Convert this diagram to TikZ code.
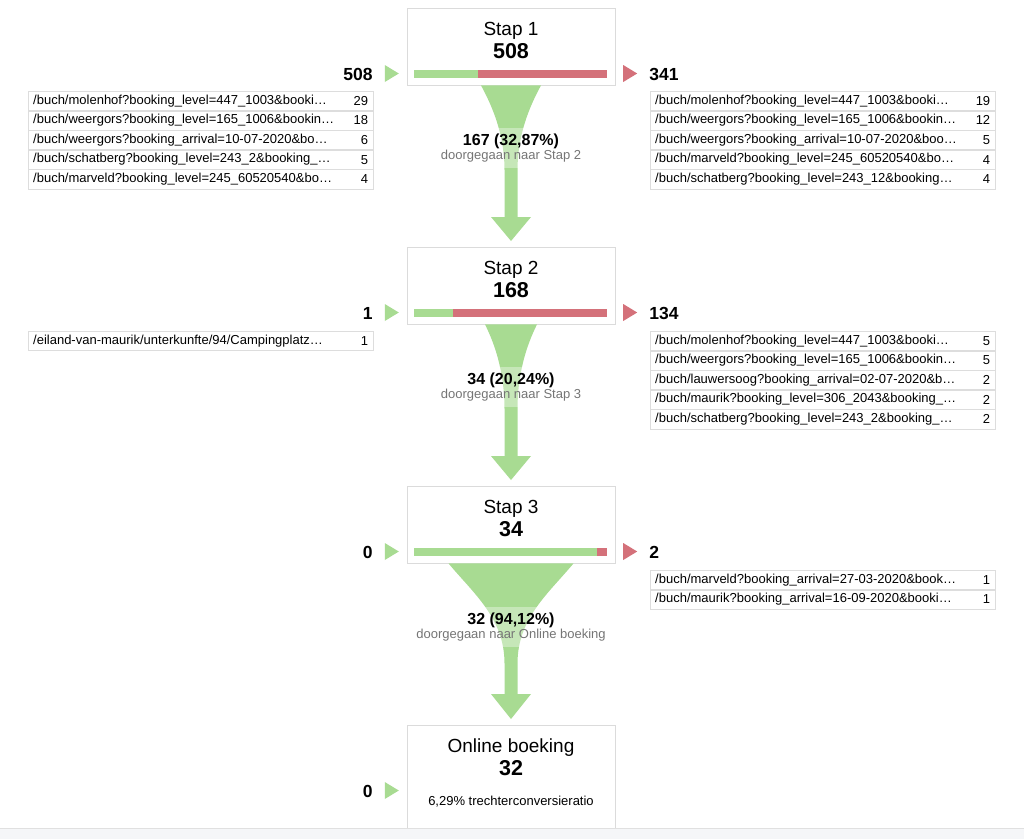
\documentclass[tikz,border=0pt]{standalone}
\usepackage{fontspec}
\setmainfont{Liberation Sans}
\usepackage{xcolor}
\usepackage{tikz}
\usetikzlibrary{positioning, calc, shadows}

\definecolor{passgreen}{RGB}{168,219,146}
\definecolor{dropred}{RGB}{212,113,122}
\definecolor{subgray}{RGB}{117,117,117}
\definecolor{cellline}{RGB}{221,221,221}
\definecolor{footgray}{RGB}{245,246,248}

\begin{document}
\begin{tikzpicture}[x=1pt, y=-1pt,
        stepbox/.style={rectangle, draw=black!14, fill=white, minimum width=208pt, minimum height=77pt, inner sep=0pt, anchor=north, drop shadow={opacity=0.07, shadow xshift=0pt, shadow yshift=-1.2pt}},
        steptitle/.style={anchor=base, inner sep=0pt, font=\fontsize{19}{22}\selectfont},
        stepcount/.style={anchor=base, inner sep=0pt, font=\fontsize{21.5}{24}\selectfont\bfseries},
        sidecount/.style={inner sep=0pt, font=\fontsize{17.5}{20}\selectfont\bfseries},
        pathrow/.style={rectangle, draw=cellline, fill=white, minimum width=345pt, minimum height=19.2pt, text width=335pt, inner xsep=5pt, inner ysep=0pt, text height=9pt, text depth=2.5pt, align=left, font=\fontsize{13}{15}\selectfont},
        rowcount/.style={anchor=east, inner sep=5pt, font=\fontsize{13}{15}\selectfont},
        passlabel/.style={fill=white, fill opacity=0.35, text opacity=1, align=center, minimum width=200pt, minimum height=40pt, inner sep=0pt, font=\fontsize{13}{14}\selectfont},
        flow/.style={fill=passgreen}
    ]
        \useasboundingbox (0,0) rectangle (1024,839);

        % Steps
        \node[stepbox] (s1) at (511,8) {};
        \node[stepbox] (s2) at (511,247) {};
        \node[stepbox] (s3) at (511,486) {};
        \node[stepbox, minimum height=110pt] (s4) at (511,725) {};

        \node[steptitle] (s1t) at ($(s1.north)+(0,27)$) {Stap 1};
        \node[stepcount] (s1n) at ($(s1.north)+(0,50)$) {508};
        \node[steptitle] (s2t) at ($(s2.north)+(0,27)$) {Stap 2};
        \node[stepcount] (s2n) at ($(s2.north)+(0,50)$) {168};
        \node[steptitle] (s3t) at ($(s3.north)+(0,27)$) {Stap 3};
        \node[stepcount] (s3n) at ($(s3.north)+(0,50)$) {34};
        \node[steptitle] (s4t) at ($(s4.north)+(0,27)$) {Online boeking};
        \node[stepcount] (s4n) at ($(s4.north)+(0,50)$) {32};
        \node[anchor=base, inner sep=0pt, font=\fontsize{13}{15}\selectfont] (s4r) at ($(s4.north)+(0,80)$) {6,29\% trechterconversieratio};

        % Continued / dropped bars
        \fill[passgreen] ($(s1.north west)+(7,62)$) rectangle ++(64,8);
        \fill[dropred] ($(s1.north west)+(71,62)$) rectangle ++(129,8);
        \fill[passgreen] ($(s2.north west)+(7,62)$) rectangle ++(39,8);
        \fill[dropred] ($(s2.north west)+(46,62)$) rectangle ++(154,8);
        \fill[passgreen] ($(s3.north west)+(7,62)$) rectangle ++(183,8);
        \fill[dropred] ($(s3.north west)+(190,62)$) rectangle ++(10,8);

        % Entrances (left) and exits (right)
        \fill[passgreen] ($(s1.north west)+(-22,57)$) -- ++(14,8.5) -- ++(-14,8.5) -- cycle;
        \fill[dropred] ($(s1.north east)+(8,57)$) -- ++(14,8.5) -- ++(-14,8.5) -- cycle;
        \node[sidecount, anchor=base east] (s1in) at ($(s1.north west)+(-34,72)$) {508};
        \node[sidecount, anchor=base west] (s1out) at ($(s1.north east)+(34,72)$) {341};

        \fill[passgreen] ($(s2.north west)+(-22,57)$) -- ++(14,8.5) -- ++(-14,8.5) -- cycle;
        \fill[dropred] ($(s2.north east)+(8,57)$) -- ++(14,8.5) -- ++(-14,8.5) -- cycle;
        \node[sidecount, anchor=base east] (s2in) at ($(s2.north west)+(-34,72)$) {1};
        \node[sidecount, anchor=base west] (s2out) at ($(s2.north east)+(34,72)$) {134};

        \fill[passgreen] ($(s3.north west)+(-22,57)$) -- ++(14,8.5) -- ++(-14,8.5) -- cycle;
        \fill[dropred] ($(s3.north east)+(8,57)$) -- ++(14,8.5) -- ++(-14,8.5) -- cycle;
        \node[sidecount, anchor=base east] (s3in) at ($(s3.north west)+(-34,72)$) {0};
        \node[sidecount, anchor=base west] (s3out) at ($(s3.north east)+(34,72)$) {2};

        \fill[passgreen] ($(s4.north west)+(-22,57)$) -- ++(14,8.5) -- ++(-14,8.5) -- cycle;
        \node[sidecount, anchor=base east] (s4in) at ($(s4.north west)+(-34,72)$) {0};

        % Entrance pages, Stap 1
        \node[pathrow, anchor=north west, label={[rowcount]east:29}] (en1a) at (28,91) {/buch/molenhof?booking\_level=447\_1003\&booki…};
        \node[pathrow, below=0pt of en1a, label={[rowcount]east:18}] (en1b) {/buch/weergors?booking\_level=165\_1006\&bookin…};
        \node[pathrow, below=0pt of en1b, label={[rowcount]east:6}] (en1c) {/buch/weergors?booking\_arrival=10-07-2020\&bo…};
        \node[pathrow, below=0pt of en1c, label={[rowcount]east:5}] (en1d) {/buch/schatberg?booking\_level=243\_2\&booking\_…};
        \node[pathrow, below=0pt of en1d, label={[rowcount]east:4}] (en1e) {/buch/marveld?booking\_level=245\_60520540\&bo…};

        % Exit pages, Stap 1
        \node[pathrow, anchor=north west, label={[rowcount]east:19}] (ex1a) at (650,91) {/buch/molenhof?booking\_level=447\_1003\&booki…};
        \node[pathrow, below=0pt of ex1a, label={[rowcount]east:12}] (ex1b) {/buch/weergors?booking\_level=165\_1006\&bookin…};
        \node[pathrow, below=0pt of ex1b, label={[rowcount]east:5}] (ex1c) {/buch/weergors?booking\_arrival=10-07-2020\&boo…};
        \node[pathrow, below=0pt of ex1c, label={[rowcount]east:4}] (ex1d) {/buch/marveld?booking\_level=245\_60520540\&bo…};
        \node[pathrow, below=0pt of ex1d, label={[rowcount]east:4}] (ex1e) {/buch/schatberg?booking\_level=243\_12\&booking…};

        % Entrance and exit pages, Stap 2
        \node[pathrow, anchor=north west, label={[rowcount]east:1}] (en2a) at (28,331) {/eiland-van-maurik/unterkunfte/94/Campingplatz…};

        \node[pathrow, anchor=north west, label={[rowcount]east:5}] (ex2a) at (650,331) {/buch/molenhof?booking\_level=447\_1003\&booki…};
        \node[pathrow, below=0pt of ex2a, label={[rowcount]east:5}] (ex2b) {/buch/weergors?booking\_level=165\_1006\&bookin…};
        \node[pathrow, below=0pt of ex2b, label={[rowcount]east:2}] (ex2c) {/buch/lauwersoog?booking\_arrival=02-07-2020\&b…};
        \node[pathrow, below=0pt of ex2c, label={[rowcount]east:2}] (ex2d) {/buch/maurik?booking\_level=306\_2043\&booking\_…};
        \node[pathrow, below=0pt of ex2d, label={[rowcount]east:2}] (ex2e) {/buch/schatberg?booking\_level=243\_2\&booking\_…};

        % Exit pages, Stap 3
        \node[pathrow, anchor=north west, label={[rowcount]east:1}] (ex3a) at (650,570) {/buch/marveld?booking\_arrival=27-03-2020\&book…};
        \node[pathrow, below=0pt of ex3a, label={[rowcount]east:1}] (ex3b) {/buch/maurik?booking\_arrival=16-09-2020\&booki…};

        % Funnels between steps
        \fill[flow] ($(s1.south)+(-30,0)$) .. controls +(12,22) and +(0,-35) .. ($(s1.south)+(-6.5,85)$)
            -- ($(s2.north)+(-6.5,-30)$) -- ($(s2.north)+(-20,-30)$) -- ($(s2.north)+(0,-6)$)
            -- ($(s2.north)+(20,-30)$) -- ($(s2.north)+(6.5,-30)$) -- ($(s1.south)+(6.5,85)$)
            .. controls +(0,-35) and +(-12,22) .. ($(s1.south)+(30,0)$) -- cycle;
        \fill[flow] ($(s2.south)+(-26,0)$) .. controls +(11,22) and +(0,-35) .. ($(s2.south)+(-6.5,85)$)
            -- ($(s3.north)+(-6.5,-30)$) -- ($(s3.north)+(-20,-30)$) -- ($(s3.north)+(0,-6)$)
            -- ($(s3.north)+(20,-30)$) -- ($(s3.north)+(6.5,-30)$) -- ($(s2.south)+(6.5,85)$)
            .. controls +(0,-35) and +(-11,22) .. ($(s2.south)+(26,0)$) -- cycle;
        \fill[flow] ($(s3.south)+(-62.5,0)$) .. controls +(25,30) and +(0,-45) .. ($(s3.south)+(-6.5,100)$)
            -- ($(s4.north)+(-6.5,-31)$) -- ($(s4.north)+(-20,-31)$) -- ($(s4.north)+(0,-6)$)
            -- ($(s4.north)+(20,-31)$) -- ($(s4.north)+(6.5,-31)$) -- ($(s3.south)+(6.5,100)$)
            .. controls +(0,-45) and +(-25,30) .. ($(s3.south)+(62.5,0)$) -- cycle;

        % Continued labels
        \node[passlabel] (p1) at ($(s1.south)+(0,63)$) {{\fontsize{16}{18}\selectfont\bfseries 167 (32,87\%)}\\{\color{subgray}doorgegaan naar Stap 2}};
        \node[passlabel] (p2) at ($(s2.south)+(0,63)$) {{\fontsize{16}{18}\selectfont\bfseries 34 (20,24\%)}\\{\color{subgray}doorgegaan naar Stap 3}};
        \node[passlabel] (p3) at ($(s3.south)+(0,64)$) {{\fontsize{16}{18}\selectfont\bfseries 32 (94,12\%)}\\{\color{subgray}doorgegaan naar Online boeking}};

        % Footer
        \fill[footgray] (0,828) rectangle (1024,839);
        \draw[black!12] (0,828) -- (1024,828);
    \end{tikzpicture}
\end{document}
